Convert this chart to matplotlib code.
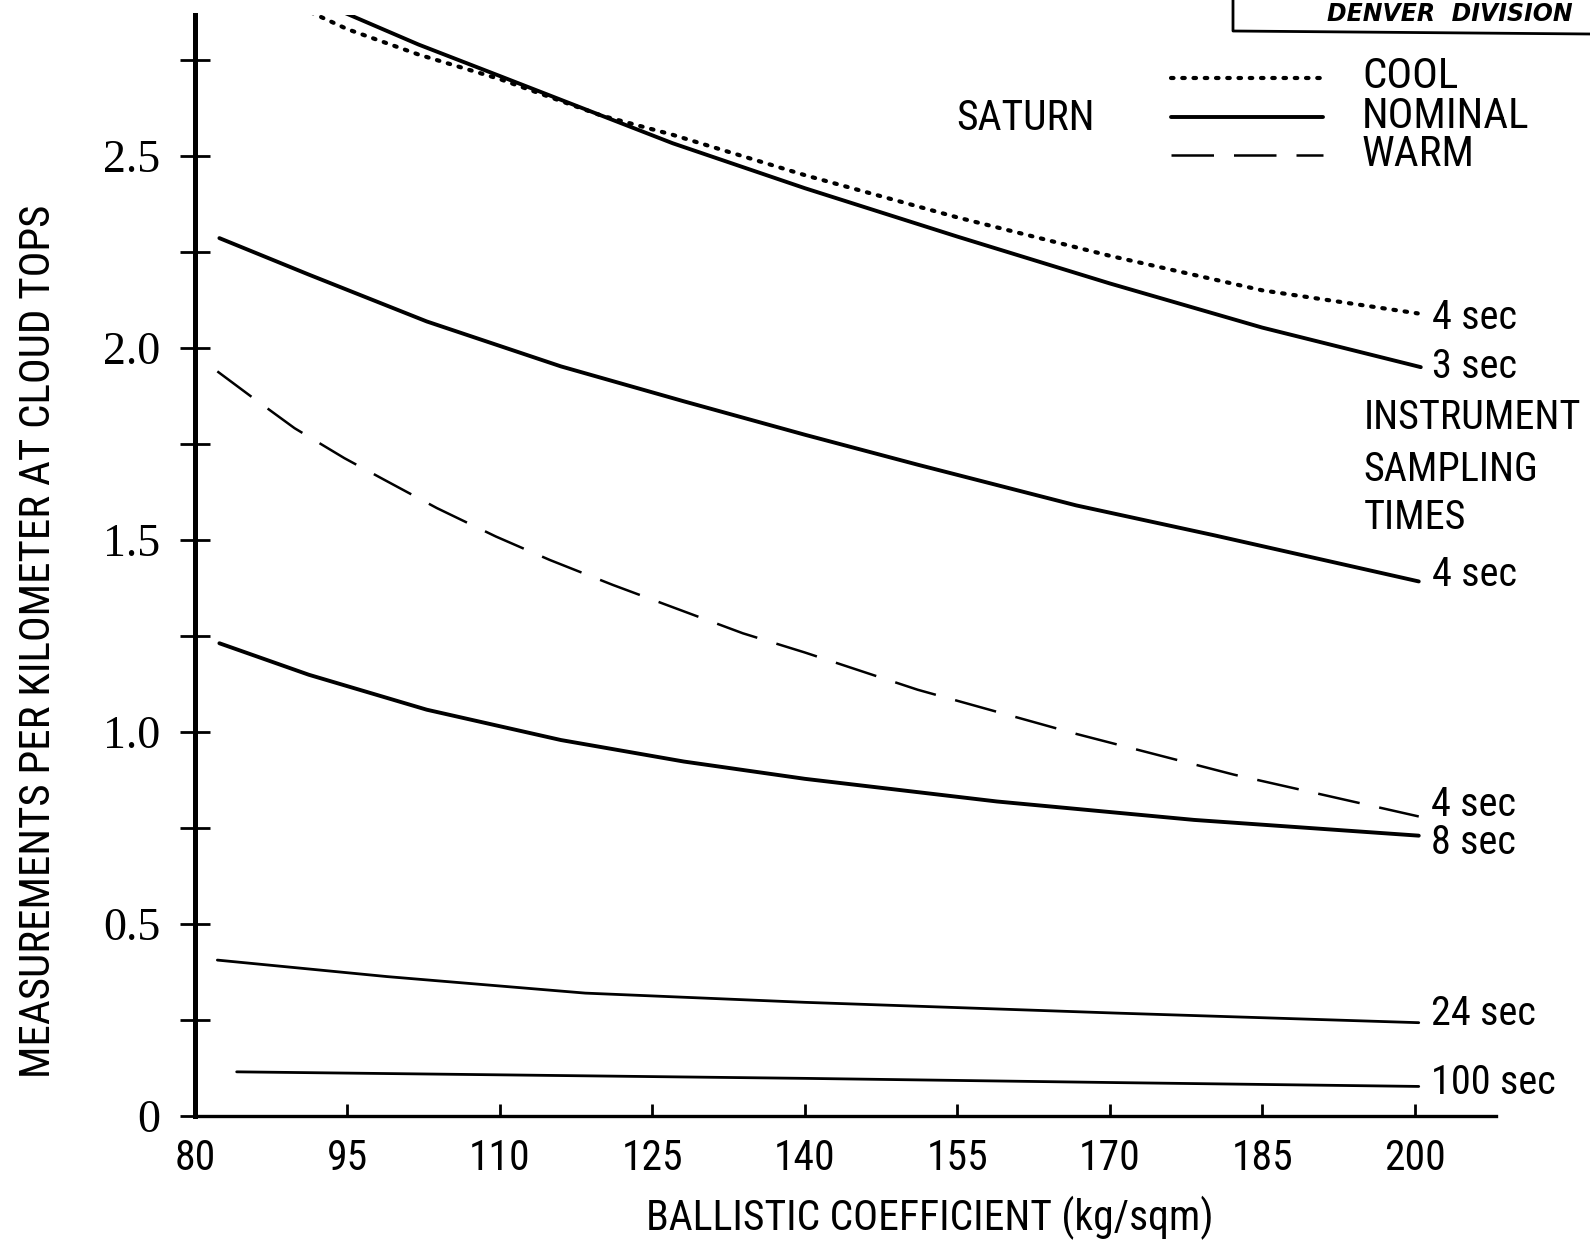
import matplotlib
matplotlib.use("Agg")
import matplotlib.pyplot as plt
from matplotlib import font_manager as fm
from matplotlib.lines import Line2D
import numpy as np

# cool (dotted) curve, 4 sec sampling
bc_cool = [91.4, 95, 102, 110, 120, 127, 140, 155, 170, 185, 200.3]
cool_4s = [2.874, 2.83, 2.764, 2.70, 2.605, 2.555, 2.45, 2.34, 2.24, 2.15, 2.09]

# nominal curves
bc_nom3 = [94.7, 102, 110, 120, 127, 140, 155, 170, 185, 200.6]
nom_3s = [2.873, 2.79, 2.708, 2.605, 2.533, 2.416, 2.29, 2.168, 2.053, 1.95]

bc_nom4 = [82.4, 91.2, 102.8, 116.0, 128.1, 140.0, 151.1, 166.7, 180.3, 200.4]
nom_4s = [2.286, 2.191, 2.069, 1.952, 1.861, 1.774, 1.696, 1.590, 1.512, 1.392]

bc_nom8 = [82.4, 91.2, 102.8, 116.0, 128.1, 140.0, 158.9, 178.3, 200.4]
nom_8s = [1.231, 1.149, 1.058, 0.979, 0.923, 0.878, 0.819, 0.771, 0.730]

bc_nom24 = [82.2, 98.9, 118.4, 140.0, 170.6, 200.4]
nom_24s = [0.406, 0.363, 0.320, 0.296, 0.268, 0.243]

bc_nom100 = [84.1, 110.6, 140.0, 170.6, 200.4]
nom_100s = [0.115, 0.107, 0.098, 0.087, 0.077]

# warm (dashed) curve, 4 sec sampling
bc_warm = [82.2, 85.5, 89.8, 94.7, 98.6, 103.8, 109.6, 114.9, 121.1, 127.7, 133.9,
           140.0, 151.1, 166.7, 182.2, 200.4]
warm_4s = [1.939, 1.874, 1.791, 1.713, 1.657, 1.583, 1.509, 1.448, 1.383, 1.318, 1.257,
           1.207, 1.110, 0.995, 0.889, 0.780]

# end labels: (text, x, y)
end_labels = [("4 sec", 201.7, 2.080), ("3 sec", 201.7, 1.951),
              ("INSTRUMENT", 195.0, 1.819), ("SAMPLING", 195.0, 1.684),
              ("TIMES", 195.0, 1.558), ("4 sec", 201.7, 1.409),
              ("4 sec", 201.6, 0.812), ("8 sec", 201.6, 0.712),
              ("24 sec", 201.6, 0.266), ("100 sec", 201.6, 0.086)]

xticks = [80, 95, 110, 125, 140, 155, 170, 185, 200]
yticks = [0, 0.5, 1.0, 1.5, 2.0, 2.5]
ytick_labels = ["0", "0.5", "1.0", "1.5", "2.0", "2.5"]
legend_labels = ["COOL", "NOMINAL", "WARM"]

# pick the narrowest sans available
fonts = fm.fontManager.ttflist
names = {f.name for f in fonts}
if "Liberation Sans Narrow" in names:
    NARROW = dict(family="Liberation Sans Narrow")
elif "Roboto Condensed" in names:
    NARROW = dict(family="Roboto Condensed")
elif any(f.name == "DejaVu Sans" and f.stretch == "condensed" for f in fonts):
    NARROW = dict(family="DejaVu Sans", fontstretch="condensed")
else:
    NARROW = dict(family="Roboto")

cool_style = dict(color="k", lw=3.0, ls=(0, (0.6, 2.1)), dash_capstyle="round")
nom_style = dict(color="k", lw=2.8, solid_capstyle="round")
thin_style = dict(color="k", lw=2.0, solid_capstyle="round")
warm_style = dict(color="k", lw=1.8, ls=(0, (17, 8)))

W, H = 1590, 1242
fig = plt.figure(figsize=(W / 100, H / 100), dpi=100)
ax = fig.add_axes([195 / W, 1 - 1116 / H, (1496 - 195) / W, (1116 - 15) / H])

ax.plot(bc_cool, cool_4s, **cool_style)
ax.plot(bc_nom3, nom_3s, **nom_style)
ax.plot(bc_nom4, nom_4s, **nom_style)
ax.plot(bc_warm, warm_4s, **warm_style)
ax.plot(bc_nom8, nom_8s, **nom_style)
ax.plot(bc_nom24, nom_24s, **thin_style)
ax.plot(bc_nom100, nom_100s, **thin_style)

ax.set_xlim(80, 208)
ax.set_ylim(0, 2.867)
for s in ["top", "right"]:
    ax.spines[s].set_visible(False)
ax.spines["left"].set_linewidth(3.6)
ax.spines["bottom"].set_linewidth(2.4)

ax.set_xticks(xticks)
ax.set_xticklabels([str(v) for v in xticks], fontsize=30, **NARROW)
ax.set_yticks(yticks)
ax.set_yticklabels(ytick_labels, family=["Liberation Serif", "DejaVu Serif"], fontsize=33)
ax.set_yticks(np.arange(0.25, 2.8, 0.5), minor=True)
ax.tick_params(axis="y", which="both", direction="inout", length=22, width=2, pad=14)
ax.tick_params(axis="x", direction="in", length=9, width=2, pad=16)

ax.set_xlabel("BALLISTIC COEFFICIENT (kg/sqm)", fontsize=30, **NARROW)
ax.xaxis.set_label_coords(0.565, -0.073)
ax.set_ylabel("MEASUREMENTS PER KILOMETER AT CLOUD TOPS", fontsize=31, **NARROW)
ax.yaxis.set_label_coords(-0.1045, 0.431)

for txt, x, y in end_labels:
    ax.text(x, y, txt, fontsize=29, va="center", ha="left", **NARROW)

# legend block drawn in figure pixels
tr = fig.transFigure
def fx(px):
    return px / W
def fy(py):
    return 1 - py / H

styles = [cool_style, nom_style, warm_style]
rows = [78, 117, 155]
for lab, st, ry in zip(legend_labels, styles, rows):
    fig.add_artist(Line2D([fx(1171), fx(1323)], [fy(ry), fy(ry)], transform=tr, **st))
    fig.text(fx(1362), fy(ry - 1), lab, fontsize=31, va="center", ha="left", **NARROW)
fig.text(fx(1026), fy(119), "SATURN", fontsize=30, va="center", ha="center", **NARROW)

# title block corner
fig.add_artist(Line2D([fx(1233), fx(1233), fx(W)], [fy(0), fy(31), fy(34)], transform=tr,
                      color="k", lw=2))
fig.text(fx(1327), fy(14), "DENVER  DIVISION", family="DejaVu Sans", style="italic",
         weight="bold", fontsize=17, va="center", ha="left")

fig.savefig("out.png", dpi=100)
